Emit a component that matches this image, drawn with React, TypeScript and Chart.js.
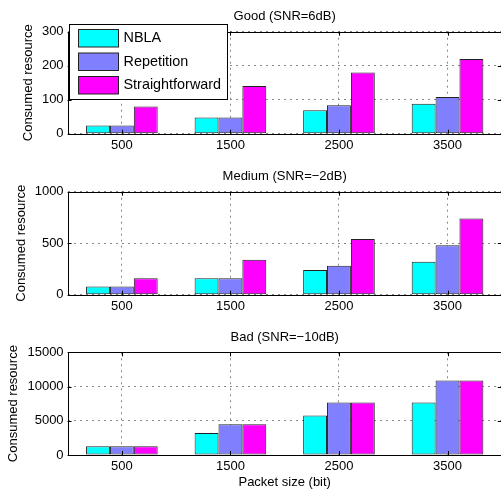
import React, { useEffect, useRef } from "react";
import { Chart, registerables } from "chart.js";

Chart.register(...registerables);

const categories = ["500", "1500", "2500", "3500"];
const seriesNames = ["NBLA", "Repetition", "Straightforward"];
const seriesColors = ["#00FFFF", "#8080FF", "#FF00FF"];

const goodNBLA = [24, 48, 69, 88];
const goodRepetition = [24, 48, 84, 108];
const goodStraightforward = [80, 140, 180, 220];

const mediumNBLA = [80, 160, 240, 320];
const mediumRepetition = [80, 160, 280, 480];
const mediumStraightforward = [160, 340, 540, 740];

const badNBLA = [1280, 3200, 5760, 7680];
const badRepetition = [1280, 4480, 7680, 10880];
const badStraightforward = [1280, 4480, 7680, 10880];

const goodTicks = [0, 100, 200, 300];
const mediumTicks = [0, 500, 1000];
const badTicks = [0, 5000, 10000, 15000];

const panelTitles = ["Good (SNR=6dB)", "Medium (SNR=\u22122dB)", "Bad (SNR=\u221210dB)"];
const yTitle = "Consumed resource";
const xTitle = "Packet size (bit)";

const FONT = "'Liberation Sans', Arial, Helvetica, sans-serif";

type Panel = {
  title: string;
  series: number[][];
  ticks: number[];
  top: number;
  height: number;
  padTop: number;
  xHeight: number;
  padLeft: number;
  legend: boolean;
  xTitle: boolean;
};

const panels: Panel[] = [
  { title: panelTitles[0], series: [goodNBLA, goodRepetition, goodStraightforward], ticks: goodTicks, top: 0, height: 160, padTop: 31.7, xHeight: 26.3, padLeft: 21.5, legend: true, xTitle: false },
  { title: panelTitles[1], series: [mediumNBLA, mediumRepetition, mediumStraightforward], ticks: mediumTicks, top: 160, height: 160, padTop: 31.7, xHeight: 25.3, padLeft: 14.5, legend: false, xTitle: false },
  { title: panelTitles[2], series: [badNBLA, badRepetition, badStraightforward], ticks: badTicks, top: 320, height: 169, padTop: 32.3, xHeight: 34, padLeft: 6.8, legend: false, xTitle: true },
];

const CANVAS_W = 520;
const AREA_LEFT = 67.6;
const AREA_RIGHT = 501.8;

const decorPlugin = {
  id: "decor",
  afterDraw(chart: any, _args: any, opts: any) {
    const ctx = chart.ctx;
    const { left, right, top, bottom } = chart.chartArea;
    ctx.save();
    ctx.strokeStyle = "#000";
    ctx.lineWidth = 1;
    const xs = chart.scales.x;
    const ys = chart.scales.y;
    ctx.beginPath();
    for (let i = 0; i < xs.ticks.length; i++) {
      const px = Math.round(xs.getPixelForTick(i)) + 0.5;
      ctx.moveTo(px, bottom);
      ctx.lineTo(px, bottom - 4);
      ctx.moveTo(px, top);
      ctx.lineTo(px, top + 4);
    }
    for (let i = 0; i < ys.ticks.length; i++) {
      const py = Math.round(ys.getPixelForValue(ys.ticks[i].value)) + 0.5;
      ctx.moveTo(left, py);
      ctx.lineTo(left + 4, py);
      ctx.moveTo(right, py);
      ctx.lineTo(right - 4, py);
    }
    ctx.stroke();
    // axes box (right edge lies beyond the visible page)
    const L = Math.round(left) + 0.5;
    const T = Math.round(top) + 0.5;
    const R = Math.round(right) + 0.5;
    const B = Math.round(bottom) + 0.5;
    ctx.beginPath();
    ctx.moveTo(R, T);
    ctx.lineTo(L, T);
    ctx.lineTo(L, B);
    ctx.lineTo(R, B);
    ctx.stroke();
    // title
    ctx.fillStyle = "#000";
    ctx.font = `13px ${FONT}`;
    ctx.textAlign = "center";
    ctx.textBaseline = "middle";
    ctx.fillText(opts.title, (left + right) / 2, top - 15);
    // legend
    if (opts.legend) {
      const bx = Math.round(left + 1.5) + 0.5;
      const by = Math.round(top - 7.7) + 0.5;
      const bw = 158;
      const bh = 75;
      ctx.fillStyle = "#fff";
      ctx.fillRect(bx, by, bw, bh);
      ctx.strokeStyle = "#000";
      ctx.lineWidth = 1;
      ctx.strokeRect(bx, by, bw, bh);
      ctx.font = `14.4px ${FONT}`;
      ctx.textAlign = "left";
      ctx.textBaseline = "middle";
      chart.data.datasets.forEach((ds: any, i: number) => {
        const sy = by + 5 + i * 23.5;
        ctx.fillStyle = ds.backgroundColor;
        ctx.fillRect(bx + 9, sy, 40, 17.5);
        ctx.strokeStyle = "#222";
        ctx.strokeRect(bx + 9, sy, 40, 17.5);
        ctx.fillStyle = "#000";
        ctx.fillText(ds.label, bx + 54, sy + 9);
      });
    }
    ctx.restore();
  },
};

function PanelChart({ p }: { p: Panel }) {
  const ref = useRef<HTMLCanvasElement | null>(null);
  useEffect(() => {
    if (!ref.current) return;
    const yMax = p.ticks[p.ticks.length - 1];
    const step = p.ticks[1] - p.ticks[0];
    const chart = new Chart(ref.current, {
      type: "bar",
      data: {
        labels: categories,
        datasets: p.series.map((vals, i) => ({
          label: seriesNames[i],
          data: vals,
          backgroundColor: seriesColors[i],
          borderColor: "#222",
          borderWidth: 1,
          borderSkipped: false,
          categoryPercentage: 0.66,
          barPercentage: 1.0,
        })),
      },
      options: {
        responsive: false,
        animation: false,
        devicePixelRatio: 1,
        layout: { padding: { top: p.padTop, left: p.padLeft, right: CANVAS_W - AREA_RIGHT, bottom: 0 } },
        plugins: {
          legend: { display: false },
          title: { display: false },
          tooltip: { enabled: false },
          decor: { title: p.title, legend: p.legend },
        } as any,
        scales: {
          x: {
            type: "category",
            offset: true,
            grid: { display: true, offset: false, color: "#888", lineWidth: 1, drawTicks: false },
            border: { display: false, dash: [2, 4] },
            ticks: { color: "#000", font: { family: FONT, size: 13 }, padding: 4, maxRotation: 0 },
            title: {
              display: p.xTitle,
              text: xTitle,
              color: "#000",
              font: { family: FONT, size: 13, lineHeight: 1 },
              padding: { top: 0, bottom: 0 },
            },
            afterFit: (scale: any) => {
              scale.height = p.xHeight;
            },
          },
          y: {
            type: "linear",
            min: 0,
            max: yMax,
            grid: { display: true, color: "#888", lineWidth: 1, drawTicks: false },
            border: { display: false, dash: [2, 4] },
            ticks: {
              stepSize: step,
              color: "#000",
              font: { family: FONT, size: 13 },
              padding: 4,
              callback: (v: any) => String(v),
            },
            title: {
              display: true,
              text: yTitle,
              color: "#000",
              font: { family: FONT, size: 13, lineHeight: 1 },
              padding: { top: 0, bottom: 0 },
            },
            afterFit: (scale: any) => {
              scale.width = AREA_LEFT - p.padLeft;
            },
          },
        },
      },
      plugins: [decorPlugin],
    } as any);
    return () => chart.destroy();
  }, [p]);
  return (
    <canvas
      ref={ref}
      width={CANVAS_W}
      height={p.height}
      style={{ position: "absolute", left: 0, top: p.top, width: CANVAS_W, height: p.height, display: "block" }}
    />
  );
}

export default function App() {
  return (
    <div
      style={{
        position: "absolute",
        left: 0,
        top: 0,
        width: 501,
        height: 489,
        overflow: "hidden",
        background: "#fff",
      }}
    >
      {panels.map((p, i) => (
        <PanelChart key={i} p={p} />
      ))}
    </div>
  );
}
